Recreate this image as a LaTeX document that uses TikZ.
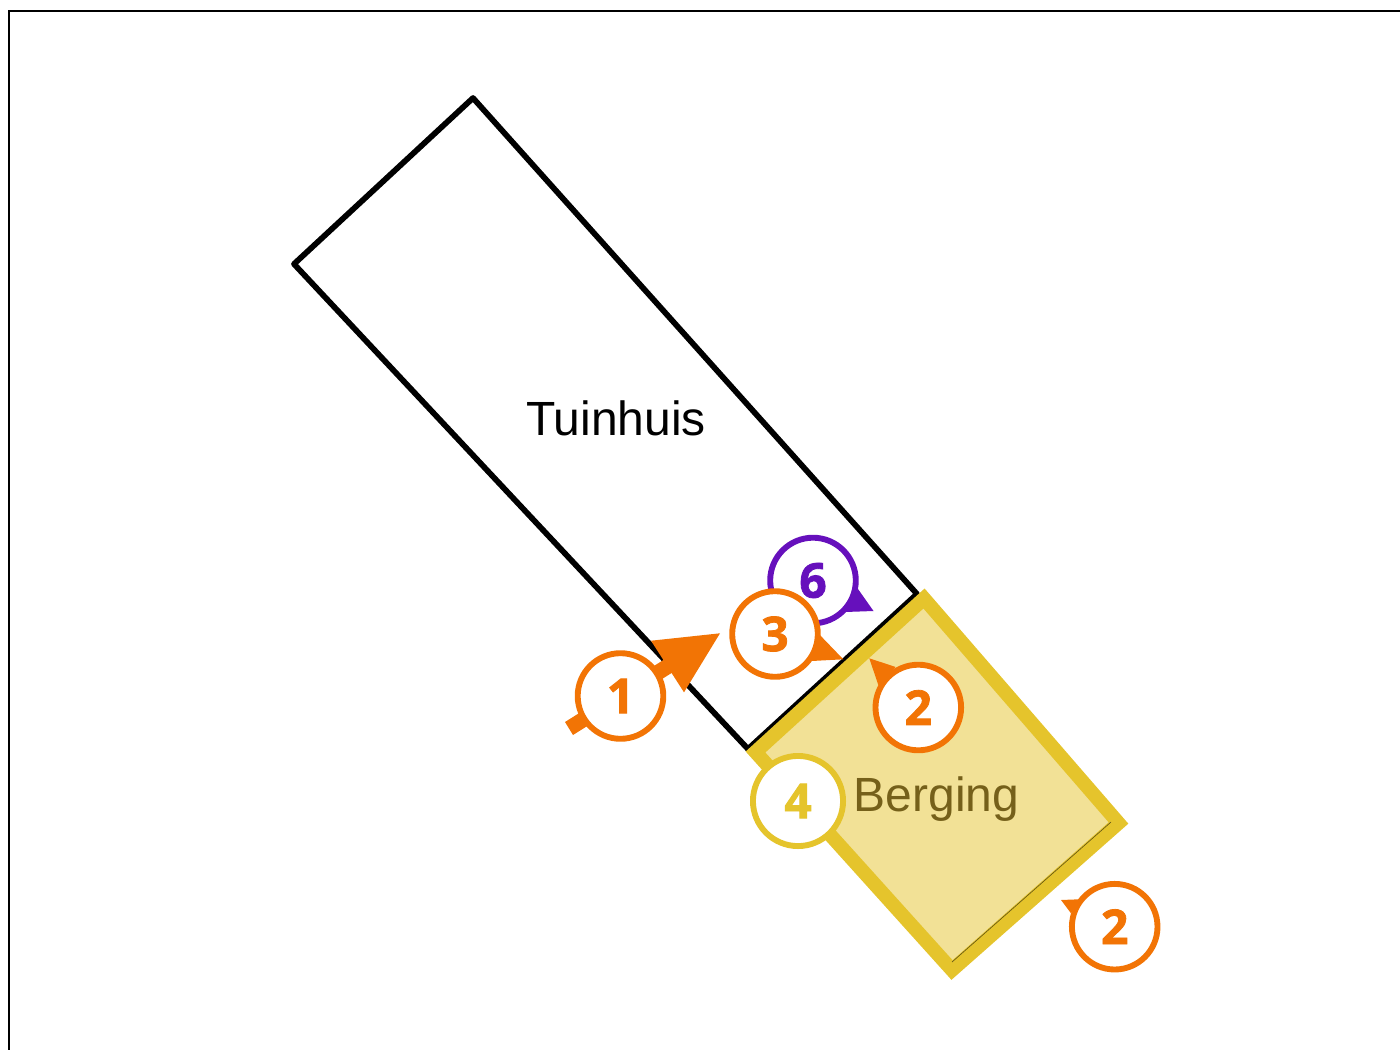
\documentclass[tikz,border=0pt]{standalone}
\usepackage{fontspec}
\setmainfont{Liberation Sans}
\newfontfamily\digitfont[BoldFeatures={FakeBold=1.6}]{Open Sans}
\definecolor{calloutorange}{HTML}{F27405}
\definecolor{calloutpurple}{HTML}{6610BC}
\definecolor{bergingedge}{HTML}{E5C42C}
\definecolor{bergingfill}{HTML}{F2E196}
\definecolor{bergingtext}{HTML}{75601A}
\tikzset{
  px/.style={x=0.75pt,y=-0.75pt},
  frameline/.style={draw=black,line width=2.2pt},
  wall/.style={draw=black,line width=4.3pt,line join=round,line cap=round},
  bergingarea/.style={draw=bergingedge,fill=bergingfill,line width=10.5pt,line join=miter},
  roomlabel/.style={anchor=base,font=\fontsize{36}{36}\selectfont},
  callout/.style={circle,fill=white,draw=#1,text=#1,line width=4.4pt,minimum size=64.2pt,inner sep=0pt,
    font=\digitfont\bfseries\fontsize{36}{36}\selectfont},
  pointer/.style={fill=#1,draw=none}
}
\begin{document}
\begin{tikzpicture}[px]
\useasboundingbox (0,0) rectangle (1400,1050);
\draw[frameline] (9,1052) -- (9,11) -- (1402,11);
% Tuinhuis
\coordinate (tn) at (473,98);
\coordinate (tw) at (294,264);
\coordinate (ts) at (748,749);
\coordinate (te) at (917,594);
\draw[wall] (tn) -- (tw) -- (ts) -- (te) -- cycle;
% Berging
\path[bergingarea] (924,598.5) -- (1118.5,823) -- (952,970) -- (755.5,752) -- cycle;
\draw[draw=black!55!bergingedge,line width=0.5pt] (1111,822) -- (952,962);
\node[roomlabel] (tuinhuis) at (616,435) {Tuinhuis};
\node[roomlabel,text=bergingtext] (berging) at (936.5,811) {Berging};
% callout 6
\fill[pointer=calloutpurple] (858,589) -- (873.5,611) -- (845,612) -- cycle;
\node[callout=calloutpurple] (c6) at (813,580.5) {6};
% callout 3
\fill[pointer=calloutorange] (816.7,631.7) -- (843.3,659.3) -- (811.7,661) -- cycle;
\node[callout=calloutorange] (c3) at (775,634) {3};
% callout 1 with long arrow
\fill[pointer=calloutorange] (565,722) -- (663.4,660) -- (651,640.7) -- (720,633.3) -- (684,692.3) -- (671.6,673) -- (573,735) -- cycle;
\node[callout=calloutorange] (c1) at (620.5,696) {1};
% callout 2 (inside)
\fill[pointer=calloutorange] (895.7,667) -- (869.3,658.3) -- (878.3,685) -- cycle;
\node[callout=calloutorange] (c2a) at (918.3,707.5) {2};
% callout 2 (outside)
\fill[pointer=calloutorange] (1079,899.3) -- (1061,900) -- (1071,913.3) -- cycle;
\node[callout=calloutorange] (c2b) at (1114.7,926.7) {2};
% callout 4
\node[callout=bergingedge,minimum size=67.6pt] (c4) at (798,801) {4};
\end{tikzpicture}
\end{document}
